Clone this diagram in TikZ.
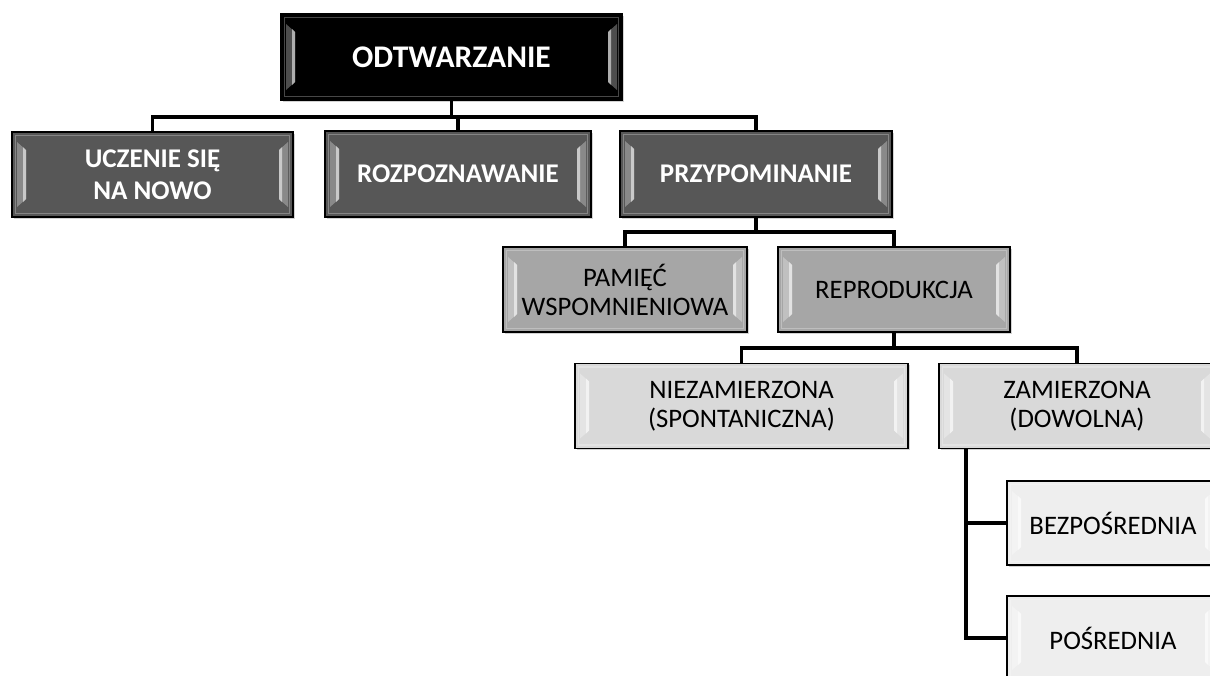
\documentclass[tikz,border=0pt]{standalone}
\usepackage{fontspec}
\setmainfont{Carlito}
\usetikzlibrary{calc,shadows}
\definecolor{lvA}{HTML}{000000}
\definecolor{lvB}{HTML}{575757}
\definecolor{lvC}{HTML}{A6A6A6}
\definecolor{lvD}{HTML}{D9D9D9}
\definecolor{lvE}{HTML}{EEEEEE}
\tikzset{
  bevel/.style={path picture={
    \coordinate (pa) at (path picture bounding box.north west);
    \coordinate (pb) at (path picture bounding box.south west);
    \coordinate (pc) at (path picture bounding box.north east);
    \coordinate (pd) at (path picture bounding box.south east);
    \draw[white,opacity=.28,line width=1.5pt] ($(pa)+(3.5,3.5)$) rectangle ($(pd)+(-3.5,-3.5)$);
    \fill[white,opacity=.3] ($(pa)+(5,10)$) -- ($(pa)+(14,18)$) -- ($(pb)+(14,-18)$) -- ($(pb)+(5,-10)$) -- cycle;
    \fill[white,opacity=.55] ($(pa)+(11,15)$) -- ($(pa)+(14,18)$) -- ($(pb)+(14,-18)$) -- ($(pb)+(11,-15)$) -- cycle;
    \fill[white,opacity=.3] ($(pc)+(-5,10)$) -- ($(pc)+(-14,18)$) -- ($(pd)+(-14,-18)$) -- ($(pd)+(-5,-10)$) -- cycle;
    \fill[white,opacity=.55] ($(pc)+(-11,15)$) -- ($(pc)+(-14,18)$) -- ($(pd)+(-14,-18)$) -- ($(pd)+(-11,-15)$) -- cycle;
  }},
  box/.style={rectangle, draw=black, line width=1.8pt, align=center, inner sep=0pt,
    bevel, drop shadow={shadow xshift=1.5pt, shadow yshift=-1.5pt, opacity=.35}},
  boxA/.style={box, fill=lvA, text=white, font=\fontsize{31.5}{36}\selectfont\bfseries},
  boxB/.style={box, fill=lvB, text=white, font=\fontsize{27}{32}\selectfont\bfseries},
  boxC/.style={box, fill=lvC, text=black, font=\fontsize{26.7}{29}\selectfont},
  boxD/.style={box, fill=lvD, text=black, font=\fontsize{26.7}{29.5}\selectfont},
  boxE/.style={box, fill=lvE, text=black, font=\fontsize{26.7}{29}\selectfont},
  link/.style={draw=black, line width=3.2pt},
}
\begin{document}
\begin{tikzpicture}[x=1pt, y=-1pt]
\useasboundingbox (0,0) rectangle (1210,675);
\clip (0,0) rectangle (1210,675);
% nodes
\node[boxA, minimum width=341pt, minimum height=86pt] (top) at (451.5,57) {ODTWARZANIE};
\node[boxB, minimum width=281pt, minimum height=85pt] (ucz) at (152.5,174.5) {UCZENIE SIĘ\\NA NOWO};
\node[boxB, minimum width=266pt, minimum height=86pt] (roz) at (458,174) {ROZPOZNAWANIE};
\node[boxB, minimum width=272pt, minimum height=86pt] (prz) at (756,174) {PRZYPOMINANIE};
\node[boxC, minimum width=244pt, minimum height=85pt] (pam) at (625,289.5) {PAMIĘĆ\\WSPOMNIENIOWA};
\node[boxC, minimum width=232pt, minimum height=85pt] (rep) at (894,289.5) {REPRODUKCJA};
\node[boxD, minimum width=333pt, minimum height=85pt] (nie) at (741.5,406) {NIEZAMIERZONA\\(SPONTANICZNA)};
\node[boxD, minimum width=276pt, minimum height=85pt] (zam) at (1077,406) {ZAMIERZONA\\(DOWOLNA)};
\node[boxE, minimum width=212pt, minimum height=84pt] (bez) at (1113,523) {BEZPOŚREDNIA};
\node[boxE, minimum width=212pt, minimum height=84pt] (pos) at (1113,638) {POŚREDNIA};
% bus coordinates
\coordinate (busA) at (451.5,117);
\coordinate (busB) at (756,232);
\coordinate (busC) at (894,348);
\coordinate (busD) at (966,638);
% connectors
\draw[link] (top.south) -- (busA);
\draw[link] (ucz.north) |- (busA) -| (prz.north);
\draw[link] (roz.north) -- (roz.north |- busA);
\draw[link] (prz.south) -- (busB);
\draw[link] (pam.north) |- (busB) -| (rep.north);
\draw[link] (rep.south) -- (busC);
\draw[link] (nie.north) |- (busC) -| (zam.north);
\draw[link] (zam.south -| busD) |- (pos.west);
\draw[link] (busD |- bez.west) -- (bez.west);
\end{tikzpicture}
\end{document}
